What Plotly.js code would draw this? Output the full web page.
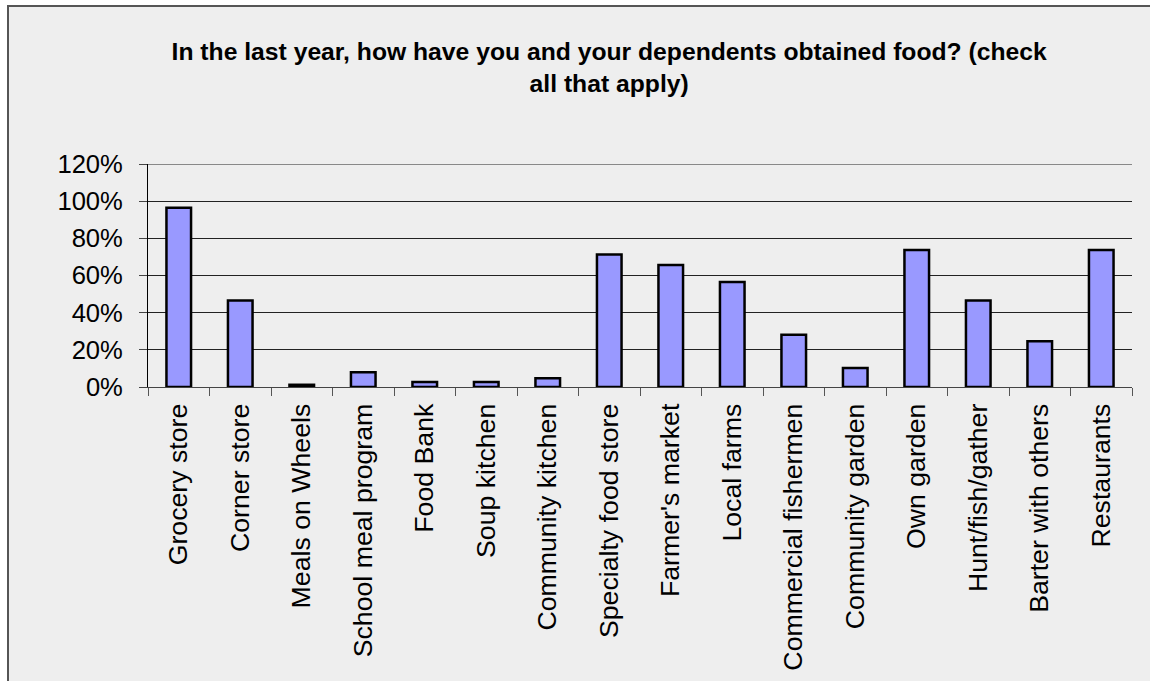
<!DOCTYPE html>
<html>
<head>
<meta charset="utf-8">
<script src="https://cdn.plot.ly/plotly-3.0.1.min.js"></script>
<style>
  html, body { margin: 0; padding: 0; background: #ffffff; width: 1150px; height: 681px; overflow: hidden; }
  #wrap { position: absolute; left: 7px; top: 5px; border-left: 2px solid #555; border-top: 2px solid #555; background: #EEEEEE; width: 1141px; height: 674px; }
  #chart { width: 1141px; height: 674px; }
</style>
</head>
<body>
<div id="wrap"><div id="chart"></div></div>
<script>
const categories = [
  "Grocery store", "Corner store", "Meals on Wheels", "School meal program",
  "Food Bank", "Soup kitchen", "Community kitchen", "Specialty food store",
  "Farmer's market", "Local farms", "Commercial fishermen", "Community garden",
  "Own garden", "Hunt/fish/gather", "Barter with others", "Restaurants"
];
const shares = [
  0.965, 0.466, 0.012, 0.079,
  0.027, 0.027, 0.047, 0.713,
  0.656, 0.565, 0.281, 0.102,
  0.737, 0.466, 0.246, 0.737
];
const yTickValues = [0, 0.2, 0.4, 0.6, 0.8, 1.0, 1.2];
const yTickLabels = ["0%", "20%", "40%", "60%", "80%", "100%", "120%"];
const yMax = 1.2;
const titleText = "In the last year, how have you and your dependents obtained food? (check<br>all that apply)";

const font = "Liberation Sans, Arial, sans-serif";

const trace = {
  type: "bar",
  x: categories,
  y: shares,
  marker: { color: "#9999FF", line: { color: "#000000", width: 2.5 } },
  hoverinfo: "x+y"
};

const layout = {
  width: 1141,
  height: 674,
  paper_bgcolor: "#EEEEEE",
  plot_bgcolor: "#EEEEEE",
  margin: { l: 139, r: 18, t: 157, b: 294, pad: 0 },
  bargap: 0.6,
  showlegend: false,
  title: {
    text: titleText,
    font: { family: font, size: 24.7, color: "#000000", weight: "bold" },
    x: 0.526, xref: "container", xanchor: "center",
    y: 0.922, yref: "container", yanchor: "top"
  },
  shapes: [
    { type: "line", xref: "paper", yref: "y", x0: 0, x1: 1, y0: yMax, y1: yMax,
      line: { color: "#222", width: 1 }, layer: "below" }
  ],
  xaxis: {
    type: "category",
    tickangle: -90,
    tickson: "boundaries",
    ticks: "outside",
    ticklen: 8,
    tickcolor: "#555",
    tickwidth: 1,
    showline: true,
    linecolor: "#444",
    linewidth: 1,
    showgrid: false,
    tickfont: { family: font, size: 26.7, color: "#000000" },
    ticklabelstandoff: 5,
    fixedrange: true
  },
  yaxis: {
    range: [0, yMax],
    tickvals: yTickValues,
    ticktext: yTickLabels,
    ticks: "outside",
    ticklen: 8,
    tickcolor: "#444",
    showline: true,
    linecolor: "#000",
    linewidth: 1,
    showgrid: true,
    gridcolor: "#222",
    gridwidth: 1,
    zeroline: false,
    tickfont: { family: font, size: 25.6, color: "#000000" },
    ticklabelstandoff: 11,
    fixedrange: true
  }
};

Plotly.newPlot("chart", [trace], layout, { displayModeBar: false, staticPlot: true });
</script>
</body>
</html>
